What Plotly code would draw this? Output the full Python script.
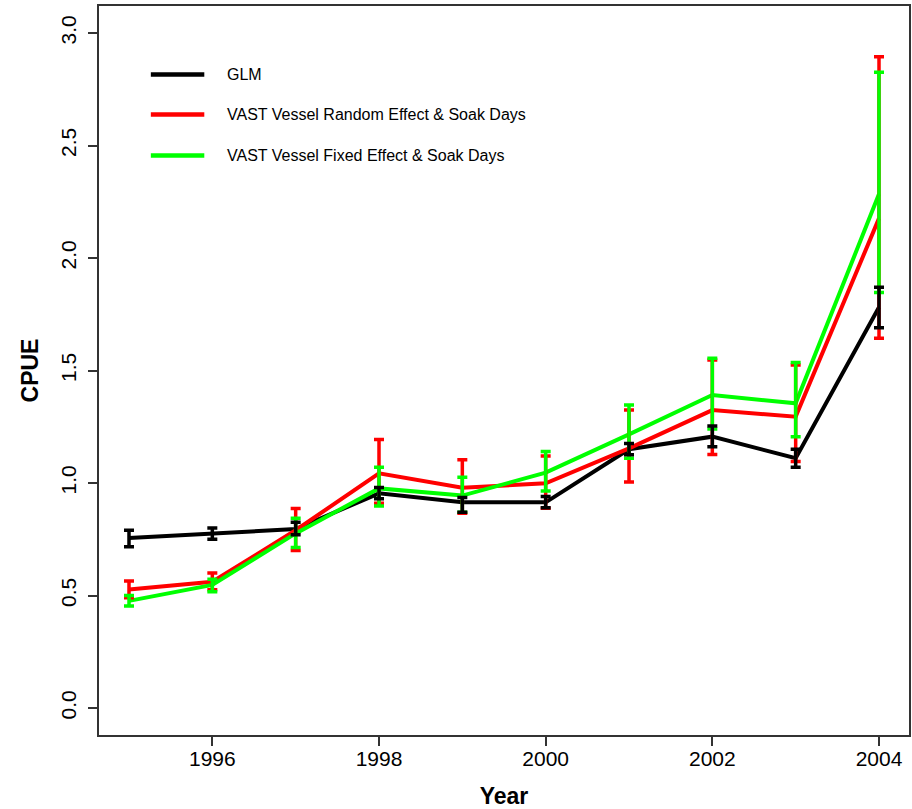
import plotly.graph_objects as go

# Standardised CPUE indices by year
years = [1995, 1996, 1997, 1998, 1999, 2000, 2001, 2002, 2003, 2004]

glm = [0.755, 0.776, 0.795, 0.954, 0.914, 0.914, 1.150, 1.206, 1.110, 1.781]
glm_hi = [0.790, 0.800, 0.825, 0.980, 0.935, 0.940, 1.175, 1.253, 1.150, 1.870]
glm_lo = [0.717, 0.750, 0.770, 0.930, 0.870, 0.890, 1.125, 1.161, 1.070, 1.690]

vast_re = [0.527, 0.561, 0.790, 1.043, 0.979, 0.999, 1.154, 1.324, 1.295, 2.176]
vast_re_hi = [0.564, 0.600, 0.887, 1.193, 1.103, 1.120, 1.324, 1.547, 1.524, 2.895]
vast_re_lo = [0.490, 0.525, 0.700, 0.910, 0.865, 0.888, 1.004, 1.127, 1.095, 1.643]

vast_fe = [0.476, 0.547, 0.776, 0.976, 0.944, 1.046, 1.216, 1.391, 1.354, 2.284]
vast_fe_hi = [0.500, 0.572, 0.843, 1.070, 1.025, 1.140, 1.347, 1.554, 1.535, 2.825]
vast_fe_lo = [0.453, 0.517, 0.713, 0.898, 0.870, 0.964, 1.110, 1.240, 1.206, 1.847]

names = ["GLM",
         "VAST Vessel Random Effect & Soak Days",
         "VAST Vessel Fixed Effect & Soak Days"]
colors = ["#000000", "#FF0000", "#00FF00"]
series = [(glm, glm_hi, glm_lo), (vast_re, vast_re_hi, vast_re_lo),
          (vast_fe, vast_fe_hi, vast_fe_lo)]

FONT = "Liberation Sans, Arial, sans-serif"

fig = go.Figure()

# index lines
for name, col, (mid, hi, lo) in zip(names, colors, series):
    fig.add_trace(go.Scatter(
        x=years, y=mid, mode="lines", name=name,
        line=dict(color=col, width=4),
        showlegend=False,
    ))

# confidence intervals, drawn above the lines
for i in [1, 2, 0]:
    mid, hi, lo = series[i]
    fig.add_trace(go.Scatter(
        x=years, y=mid, mode="markers",
        marker=dict(size=1, color=colors[i], opacity=0),
        error_y=dict(type="data", symmetric=False,
                     array=[h - m for h, m in zip(hi, mid)],
                     arrayminus=[m - l for m, l in zip(mid, lo)],
                     color=colors[i], thickness=3.5, width=5),
        showlegend=False, hoverinfo="skip",
    ))

# key in the upper-left corner of the panel (paper coordinates)
key_x0, key_x1, key_tx = 0.064, 0.130, 0.155
key_y = [0.906, 0.851, 0.795]
shapes = []
annotations = []
for name, col, ky in zip(names, colors, key_y):
    shapes.append(dict(type="line", xref="paper", yref="paper",
                       x0=key_x0, x1=key_x1, y0=ky, y1=ky,
                       line=dict(color=col, width=4.5)))
    annotations.append(dict(xref="paper", yref="paper", x=key_tx, y=ky,
                            text=name, showarrow=False,
                            xanchor="left", yanchor="middle",
                            font=dict(family=FONT, size=16, color="#000000")))

tick_font = dict(family=FONT, size=21, color="#000000")
title_font = dict(family=FONT, size=23, color="#000000")

fig.update_layout(
    width=912, height=809,
    margin=dict(l=99, r=3, t=6, b=74),
    paper_bgcolor="white", plot_bgcolor="white",
    shapes=shapes, annotations=annotations,
    xaxis=dict(
        range=[1994.64, 2004.36], tickvals=[1996, 1998, 2000, 2002, 2004],
        showgrid=False, zeroline=False, automargin=False,
        showline=True, linecolor="#333333", linewidth=1.5, mirror=True,
        ticks="outside", ticklen=9, tickcolor="#333333", tickwidth=1.5,
        tickfont=tick_font, ticklabelstandoff=-5,
        title=dict(text="<b>Year</b>", font=title_font, standoff=22),
    ),
    yaxis=dict(
        range=[-0.12, 3.12], tickvals=[0, 0.5, 1.0, 1.5, 2.0, 2.5, 3.0],
        tickformat=".1f", tickangle=-90,
        showgrid=False, zeroline=False, automargin=False,
        showline=True, linecolor="#333333", linewidth=1.5, mirror=True,
        ticks="outside", ticklen=9, tickcolor="#333333", tickwidth=1.5,
        tickfont=tick_font, ticklabelstandoff=4,
        title=dict(text="<b>CPUE</b>", font=title_font, standoff=12),
    ),
)

fig.write_html("out.html")
